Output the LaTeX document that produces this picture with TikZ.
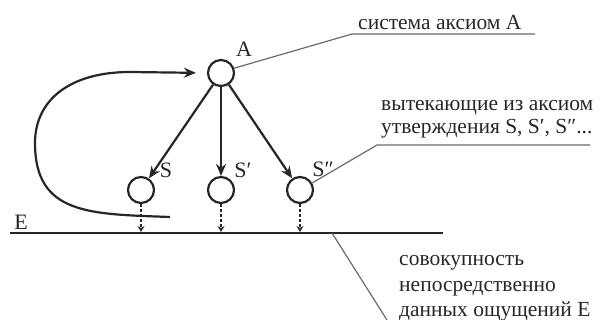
\documentclass[tikz,border=0pt]{standalone}
\usepackage{fontspec}
\setmainfont{Liberation Serif}
\usetikzlibrary{arrows.meta}
\definecolor{ink}{HTML}{262626}
\definecolor{lead}{HTML}{6A6A6A}
\begin{document}
\begin{tikzpicture}[x=1pt,y=-1pt,
  circ/.style={circle,draw=ink,line width=2.2pt,minimum size=26pt,inner sep=0pt},
  lbl/.style={font=\fontsize{22}{24}\selectfont,text=ink,inner sep=0pt},
  txt/.style={font=\fontsize{21.5}{26}\selectfont,text=ink,inner sep=0pt,anchor=base west},
  arr/.style={draw=ink,line width=2.2pt,-{Stealth[length=12pt,width=10pt]}},
  darr/.style={draw=ink,line width=1.6pt,dash pattern=on 3pt off 2pt,-{Stealth[length=6pt,width=7pt,open]}},
  leader/.style={draw=lead,line width=1.2pt},
  eline/.style={draw=ink,line width=2.4pt}]
\useasboundingbox (0,0) rectangle (601,320);
% nodes
\node[circ] (A) at (221,73) {};
\node[circ] (S1) at (141,190) {};
\node[circ] (S2) at (221,190) {};
\node[circ] (S3) at (300,190) {};
\node[lbl] (lA) at (244,49) {A};
\node[lbl] (lS1) at (166,170) {S};
\node[lbl] (lS2) at (243,170) {S′};
\node[lbl] (lS3) at (323,169) {S″};
\node[lbl] (lE) at (21,222) {E};
% E line
\coordinate (E1) at (10,233);
\coordinate (E2) at (443,233);
\draw[eline] (E1) -- (E2);
\coordinate (P1) at (141,232);
\coordinate (P2) at (221,232);
\coordinate (P3) at (300,232);
% arrows
\draw[arr] (A) -- (S1);
\draw[arr] (A) -- (S2);
\draw[arr] (A) -- (S3);
\draw[darr] (S1.south) -- (P1);
\draw[darr] (S2.south) -- (P2);
\draw[darr] (S3.south) -- (P3);
% loop
\coordinate (L0) at (170,217);
\draw[arr,shorten >=11pt] (L0) .. controls (90,214) and (35,215) .. (35,143)
  .. controls (35,100) and (70,72) .. (130,72) -- (A.west);
% leaders and texts
\coordinate (a1) at (352,34);
\coordinate (a2) at (535,34);
\draw[leader] (A.20) -- (a1) -- (a2);
\node[txt] (tA) at (358,30) {система аксиом А};
\coordinate (b1) at (377,145);
\coordinate (b2) at (590,145);
\draw[leader] (S3.30) -- (b1) -- (b2);
\node[txt] (tS1) at (381,111) {вытекающие из аксиом};
\node[txt] (tS2) at (381,134) {утверждения S, S′, S″...};
\coordinate (c0) at (332,233);
\coordinate (c1) at (387,320);
\draw[leader] (c0) -- (c1);
\node[txt] (tE1) at (399,265) {совокупность};
\node[txt] (tE2) at (399,291) {непосредственно};
\node[txt] (tE3) at (399,316) {данных ощущений E};
\end{tikzpicture}
\end{document}
